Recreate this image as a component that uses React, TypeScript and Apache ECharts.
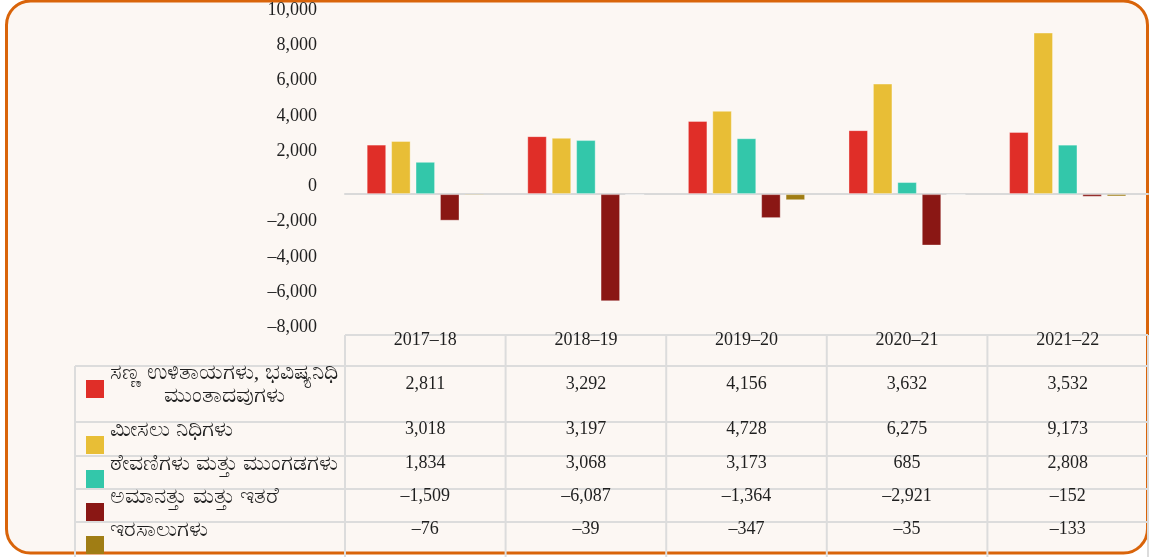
import React, { useEffect, useRef } from 'react';
import * as echarts from 'echarts';

const categories = ['2017–18', '2018–19', '2019–20', '2020–21', '2021–22'];
const seriesNames = [
  'ಸಣ್ಣ ಉಳಿತಾಯಗಳು, ಭವಿಷ್ಯನಿಧಿ\nಮುಂತಾದವುಗಳು',
  'ಮೀಸಲು ನಿಧಿಗಳು',
  'ಠೇವಣಿಗಳು ಮತ್ತು ಮುಂಗಡಗಳು',
  'ಅಮಾನತ್ತು ಮತ್ತು ಇತರೆ',
  'ಇರಸಾಲುಗಳು',
];
const smallSavings = [2811, 3292, 4156, 3632, 3532];
const reserveFunds = [3018, 3197, 4728, 6275, 9173];
const deposits = [1834, 3068, 3173, 685, 2808];
const suspense = [-1509, -6087, -1364, -2921, -152];
const remittances = [-76, -39, -347, -35, -133];
const seriesValues = [smallSavings, reserveFunds, deposits, suspense, remittances];
const colors = ['#e02e28', '#e8be36', '#33c7aa', '#8a1714', '#a07d14'];
const yTicks = { min: -8000, max: 10000, interval: 2000 };

const FONT = "'Liberation Serif', 'Times New Roman', serif";
const TEXT = '#1f1f1f';
const LINE = '#dcdcdc';

const fmt = (v: number) => (v < 0 ? '–' : '') + Math.abs(v).toLocaleString('en-US');

export default function App() {
  const ref = useRef<HTMLDivElement>(null);
  useEffect(() => {
    const chart = echarts.init(ref.current!, null, { renderer: 'svg' });
    chart.setOption({
      animation: false,
      grid: { left: 345, right: 10, top: 17.3, bottom: 222, containLabel: false },
      xAxis: {
        type: 'category',
        data: categories,
        axisLine: { onZero: true, lineStyle: { color: '#d9d9d9', width: 2 } },
        axisTick: { show: false },
        axisLabel: { show: false },
        splitLine: { show: false },
      },
      yAxis: {
        type: 'value',
        min: yTicks.min,
        max: yTicks.max,
        interval: yTicks.interval,
        splitLine: { show: false },
        axisLine: { show: false },
        axisTick: { show: false },
        axisLabel: {
          formatter: fmt,
          color: TEXT,
          fontFamily: FONT,
          fontSize: 18,
          margin: 28,
          verticalAlign: 'bottom',
        },
      },
      series: seriesValues.map((vals, i) => ({
        type: 'bar',
        name: seriesNames[i],
        data: vals,
        barGap: '25%',
        barCategoryGap: '27%',
        itemStyle: { color: colors[i], borderColor: 'rgba(255,255,255,0.35)', borderWidth: 1 },
      })),
    });

    const xs = categories.map((c) => chart.convertToPixel({ xAxisIndex: 0 }, c) as number);
    const band = xs[1] - xs[0];
    const gridLeft = xs[0] - band / 2;
    const gridRight = xs[xs.length - 1] + band / 2;
    const headerTop = chart.convertToPixel({ yAxisIndex: 0 }, yTicks.min) as number;
    const rowTops = [366, 422, 456, 489, 522];
    const tableLeft = 75;
    const bottom = 557;

    const els: any[] = [];
    els.push({
      type: 'rect',
      z: -10,
      silent: true,
      shape: { x: 6.5, y: 1, width: 1141, height: 552, r: 24 },
      style: { fill: '#fcf7f3', stroke: '#d9640a', lineWidth: 3 },
    });
    els.push({ type: 'line', z: 50, shape: { x1: gridLeft, y1: headerTop, x2: gridRight, y2: headerTop }, style: { stroke: LINE, lineWidth: 2 } });
    for (let i = 0; i <= categories.length; i++) {
      const x = gridLeft + band * i;
      els.push({ type: 'line', z: 50, shape: { x1: x, y1: headerTop, x2: x, y2: bottom }, style: { stroke: LINE, lineWidth: 2 } });
    }
    els.push({ type: 'line', z: 50, shape: { x1: tableLeft, y1: rowTops[0], x2: tableLeft, y2: bottom }, style: { stroke: LINE, lineWidth: 2 } });
    rowTops.forEach((t) => {
      els.push({ type: 'line', z: 50, shape: { x1: tableLeft, y1: t, x2: gridRight, y2: t }, style: { stroke: LINE, lineWidth: 2 } });
    });
    categories.forEach((c, i) => {
      els.push({ type: 'text', z: 60, style: { text: c, x: xs[i], y: headerTop + 4, align: 'center', verticalAlign: 'middle', font: `18px ${FONT}`, fill: TEXT } });
    });
    seriesNames.forEach((name, r) => {
      const top = rowTops[r];
      const multi = name.includes('\n');
      els.push({
        type: 'rect', z: 60,
        shape: { x: 86, y: top + 14, width: 18, height: 18 },
        style: { fill: colors[r] },
      });
      els.push({
        type: 'text', z: 60,
        style: {
          text: name,
          x: multi ? 224 : 110,
          y: multi ? top - 6 : top + 6,
          align: multi ? 'center' : 'left',
          verticalAlign: multi ? 'top' : 'middle',
          font: `22px ${FONT}`,
          lineHeight: 23,
          fill: TEXT,
        },
      });
      seriesValues[r].forEach((v, i) => {
        els.push({
          type: 'text', z: 60,
          style: { text: fmt(v), x: xs[i], y: multi ? top + 17 : top + 6, align: 'center', verticalAlign: 'middle', font: `18px ${FONT}`, fill: TEXT },
        });
      });
    });

    chart.setOption({ graphic: { elements: els } });
    return () => chart.dispose();
  }, []);
  return <div ref={ref} style={{ position: 'fixed', left: 0, top: 0, width: 1158, height: 557 }} />;
}
